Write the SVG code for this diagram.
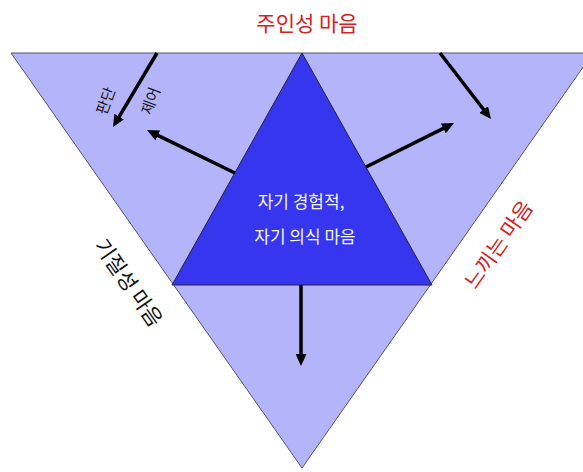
<svg xmlns="http://www.w3.org/2000/svg" width="583" height="472" viewBox="0 0 583 472">
<style>
.kr{font-family:"Noto Sans CJK KR","Noto Sans",sans-serif;}
.red{fill:#d42121;}
.blk{fill:#111111;}
.wht{fill:#f4f4ff;}
.arr{stroke:#000;stroke-width:3.5;fill:none;marker-end:url(#ah);}
</style>
<defs>
<marker id="ah" markerUnits="userSpaceOnUse" markerWidth="12" markerHeight="11" refX="4" refY="5.5" orient="auto">
<path d="M0,0 L12,5.5 L0,11 z" fill="#000"/>
</marker>
</defs>
<rect width="583" height="472" fill="#ffffff"/>
<g id="outer">
<polygon points="11,53 593,53 302,468" fill="#b4b4fa" stroke="#555566" stroke-width="1"/>
</g>
<g id="inner">
<polygon points="302,53 432,285 172,285" fill="#3636ee" stroke="#222244" stroke-width="1"/>
<text class="kr wht" x="301" y="208" font-size="17" text-anchor="middle">자기 경험적,</text>
<text class="kr wht" x="305" y="243" font-size="17" text-anchor="middle">자기 의식 마음</text>
</g>
<g id="connectors">
<line class="arr" x1="157" y1="53" x2="117.1" y2="120.1"/>
<line class="arr" x1="235" y1="173" x2="154.2" y2="133.6"/>
<line class="arr" x1="366" y1="167" x2="446.9" y2="126.6"/>
<line class="arr" x1="440" y1="53" x2="486.1" y2="112.7"/>
<line class="arr" x1="301" y1="285" x2="301" y2="358"/>
</g>
<g id="label-top">
<text class="kr red" x="307" y="31" font-size="21" text-anchor="middle">주인성 마음</text>
</g>
<g id="label-left">
<text class="kr blk" x="0" y="0" font-size="21" text-anchor="middle" transform="translate(128,283) rotate(55) translate(0,7)">기질성 마음</text>
</g>
<g id="label-right">
<text class="kr red" x="0" y="0" font-size="21" text-anchor="middle" transform="translate(499,245) rotate(-55) translate(0,7)">느끼는 마음</text>
</g>
<g id="label-judge">
<text class="kr blk" x="0" y="0" font-size="15" text-anchor="middle" transform="translate(106,101) rotate(-70) translate(0,5)">판단</text>
</g>
<g id="label-control">
<text class="kr blk" x="0" y="0" font-size="15" text-anchor="middle" transform="translate(151,101) rotate(-70) translate(0,5)">제어</text>
</g>
</svg>
